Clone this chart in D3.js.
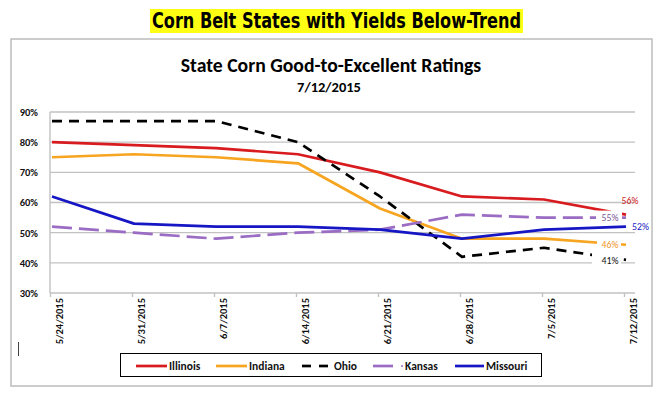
<!DOCTYPE html>
<html><head><meta charset="utf-8">
<script src="https://cdn.jsdelivr.net/npm/d3@7"></script>
<style>body{margin:0;background:#fff;} svg{display:block;}</style>
</head><body>
<svg id="c" width="670" height="399"></svg>
<script>
// ---- data ----
const dates = ["5/24/2015","5/31/2015","6/7/2015","6/14/2015","6/21/2015","6/28/2015","7/5/2015","7/12/2015"];
const seriesNames = ["Illinois","Indiana","Ohio","Kansas","Missouri"];
const illinois = [80,79,78,76,70,62,61,56];
const indiana  = [75,76,75,73,58,48,48,46];
const ohio     = [87,87,87,80,62,42,45,41];
const kansas   = [52,50,48,50,51,56,55,55];
const missouri = [62,53,52,52,51,48,51,52];
const yTicks = [30,40,50,60,70,80,90];
const mainTitle = "Corn Belt States with Yields Below-Trend";
const chartTitle = "State Corn Good-to-Excellent Ratings";
const chartSubtitle = "7/12/2015";

// ---- styles ----
const valuesBy = {Illinois: illinois, Indiana: indiana, Ohio: ohio, Kansas: kansas, Missouri: missouri};
const style = {
  Illinois: {color:"#d81b1e", dash:null, label:"#cf1a1a"},
  Indiana:  {color:"#f7a520", dash:null, label:"#f0962a"},
  Ohio:     {color:"#000000", dash:"10,7", label:"#111"},
  Kansas:   {color:"#9a6cc4", dash:"20,7", label:"#7a5a96"},
  Missouri: {color:"#1616c4", dash:null, label:"#1a1ac0"}
};
// data-label placement relative to the last point (dx, dy, anchor, mask from/to)
const labelPos = {
  Illinois: {dx:4,  dy:-14, anchor:"middle", m0:-15, m1:-4, mh:8},
  Kansas:   {dx:-16, dy:0,  anchor:"middle", m0:-30, m1:-5, mh:7},
  Missouri: {dx:6,  dy:0,  anchor:"start",  m0:0, m1:0, mh:0},
  Indiana:  {dx:-16, dy:0,  anchor:"middle", m0:-29, m1:-5, mh:7},
  Ohio:     {dx:-16, dy:1,  anchor:"middle", m0:-34, m1:-5, mh:7}
};
const legendX = [136, 216, 302, 373, 455];
const FONT = "Carlito, Lato, 'Open Sans', sans-serif";

const svg = d3.select("#c");

// main highlighted title
svg.append("rect").attr("x",150).attr("y",9).attr("width",373).attr("height",24).attr("fill","#ffff14");
svg.append("text").attr("x",336.5).attr("y",27.5).attr("text-anchor","middle")
  .attr("font-family","'Liberation Sans Narrow','Arial Narrow','DejaVu Sans Condensed',sans-serif")
  .attr("font-weight","bold").attr("font-size",21).attr("fill","#000")
  .attr("textLength",369).attr("lengthAdjust","spacingAndGlyphs").text(mainTitle);

// chart frame
svg.append("rect").attr("x",11).attr("y",39).attr("width",641).attr("height",347)
  .attr("fill","#fff").attr("stroke","#bcbcbc").attr("stroke-width",1.5);

svg.append("text").attr("x",331).attr("y",72).attr("text-anchor","middle")
  .attr("font-family",FONT).attr("font-weight","bold").attr("font-size",19.7).attr("fill","#000")
  .text(chartTitle);
svg.append("text").attr("x",329).attr("y",92).attr("text-anchor","middle")
  .attr("font-family",FONT).attr("font-weight","bold").attr("font-size",14.5).attr("fill","#000")
  .text(chartSubtitle);

// scales
const x = d3.scalePoint().domain(dates).range([52, 626]);
const y = d3.scaleLinear().domain([30, 90]).range([293, 112]);

// gridlines
const grid = svg.append("g");
grid.selectAll("line").data(yTicks).join("line")
  .attr("x1",50).attr("x2",635).attr("y1",d=>y(d)).attr("y2",d=>y(d))
  .attr("stroke","#c2c2c2").attr("stroke-width",1.4);
svg.append("line").attr("x1",50).attr("x2",50).attr("y1",y(90)).attr("y2",y(30))
  .attr("stroke","#c2c2c2").attr("stroke-width",1.4);

// y axis labels
const yAxis = d3.axisLeft(y).tickValues(yTicks).tickFormat(d=>d+"%").tickSize(0).tickPadding(0);
const ya = svg.append("g").attr("transform","translate(38,0)").call(yAxis);
ya.select(".domain").remove();
ya.selectAll("text").attr("font-family",FONT).attr("font-weight","bold").attr("font-size",10.5).attr("fill","#111");

// x axis ticks and rotated labels
const xAxis = d3.axisBottom(x).tickSize(4).tickFormat(d=>d);
const xa = svg.append("g").attr("transform","translate(-2,"+y(30)+")").call(xAxis);
xa.select(".domain").remove();
xa.selectAll(".tick line").attr("stroke","#c2c2c2").attr("stroke-width",1.4);
xa.selectAll(".tick text")
  .attr("transform","translate(9,5) rotate(-90)")
  .attr("x",0).attr("y",0).attr("dy","0.35em")
  .attr("text-anchor","end")
  .attr("font-family",FONT).attr("font-weight","bold").attr("font-size",10.5).attr("fill","#111");

// lines
const line = d3.line().x((d,i)=>x(dates[i])).y(d=>y(d));
const lg = svg.append("g");
seriesNames.forEach(n=>{
  lg.append("path").datum(valuesBy[n]).attr("d",line)
    .attr("fill","none").attr("stroke",style[n].color).attr("stroke-width",2.7)
    .attr("stroke-linejoin","round")
    .attr("stroke-dasharray",style[n].dash);
});

// data labels for last point
const last = dates.length-1;
const lab = svg.append("g");
seriesNames.forEach(n=>{
  const v = valuesBy[n][last], px = x(dates[last]), py = y(v), p = labelPos[n];
  if (p.mh>0) lab.append("rect").attr("x",px+p.m0).attr("y",py-p.mh)
      .attr("width",p.m1-p.m0).attr("height",2*p.mh).attr("fill","#fff");
});
seriesNames.forEach(n=>{
  const v = valuesBy[n][last], px = x(dates[last]), py = y(v), p = labelPos[n];
  lab.append("text").attr("x",px+p.dx).attr("y",py+p.dy).attr("dy","0.35em")
    .attr("text-anchor",p.anchor).attr("font-family",FONT).attr("font-size",9.8)
    .attr("fill",style[n].label).text(v+"%");
});

// stray cursor mark
svg.append("line").attr("x1",18.5).attr("x2",18.5).attr("y1",342).attr("y2",356).attr("stroke","#444").attr("stroke-width",1);

// legend
svg.append("rect").attr("x",120.5).attr("y",353.5).attr("width",421).attr("height",23)
  .attr("fill","#fff").attr("stroke","#000").attr("stroke-width",1);
const ly = 366;
seriesNames.forEach((n,i)=>{
  const g = svg.append("g").attr("transform","translate("+legendX[i]+","+ly+")");
  let tx;
  if (n==="Ohio") {
    g.append("line").attr("x1",0).attr("x2",9).attr("y1",0).attr("y2",0).attr("stroke",style[n].color).attr("stroke-width",2.7);
    g.append("line").attr("x1",17).attr("x2",26).attr("y1",0).attr("y2",0).attr("stroke",style[n].color).attr("stroke-width",2.7);
    tx = 32;
  } else if (n==="Kansas") {
    g.append("line").attr("x1",0).attr("x2",20).attr("y1",0).attr("y2",0).attr("stroke",style[n].color).attr("stroke-width",2.7);
    g.append("circle").attr("cx",29).attr("cy",0).attr("r",1).attr("fill",style[n].color);
    tx = 32;
  } else {
    const len = n==="Missouri" ? 29 : 31;
    g.append("line").attr("x1",0).attr("x2",len).attr("y1",0).attr("y2",0).attr("stroke",style[n].color).attr("stroke-width",2.7);
    tx = len+2;
  }
  g.append("text").attr("x",tx).attr("y",0).attr("dy","0.36em")
    .attr("font-family",FONT).attr("font-weight","bold").attr("font-size",11.5).attr("fill","#111").text(n);
});
</script>
</body></html>
